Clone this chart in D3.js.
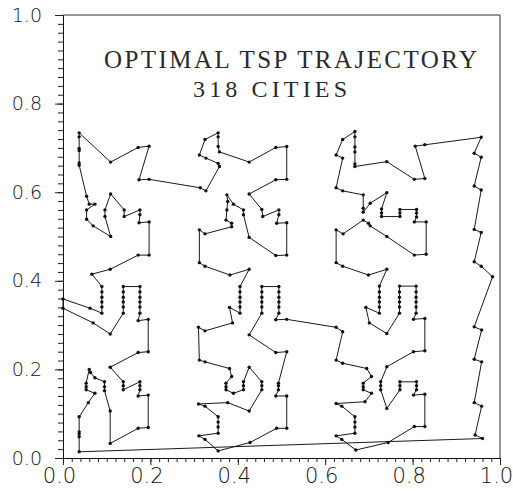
<!DOCTYPE html>
<html><head><meta charset="utf-8">
<script src="https://cdn.jsdelivr.net/npm/d3@7"></script>
<style>body{margin:0;background:#fff}svg{display:block}</style>
</head><body><svg id="c" width="513" height="491"></svg>
<script>
const titleLines = ["OPTIMAL TSP TRAJECTORY", "318 CITIES"];
const majorTicks = [0, 0.2, 0.4, 0.6, 0.8, 1.0];
const xTickLabels = ["0.0", "0.2", "0.4", "0.6", "0.8", "1.0"];
const yTickLabels = ["0.0", "0.2", "0.4", "0.6", "0.8", "1.0"];

// tour, in visiting order, split into the visible groups of cities
const leftCluster = [
 [0.037,0.014],[0.037,0.048],[0.037,0.054],[0.037,0.059],[0.037,0.093],[0.058,0.125],[0.073,0.146],
 [0.053,0.154],[0.053,0.161],[0.053,0.169],[0.060,0.200],[0.063,0.193],[0.073,0.181],[0.095,0.172],
 [0.095,0.161],[0.095,0.152],[0.108,0.106],[0.108,0.033],[0.172,0.067],[0.195,0.069],[0.195,0.142],
 [0.172,0.140],[0.176,0.154],[0.176,0.163],[0.176,0.172],[0.138,0.154],[0.138,0.163],[0.138,0.172],
 [0.108,0.205],[0.172,0.238],[0.195,0.240],[0.195,0.313],[0.172,0.310],[0.176,0.327],[0.176,0.341],
 [0.176,0.352],[0.176,0.363],[0.176,0.375],[0.176,0.387],[0.138,0.387],[0.138,0.375],[0.138,0.363],
 [0.138,0.352],[0.138,0.341],[0.138,0.327],[0.108,0.280],[0.069,0.305],[0.000,0.338],[0.000,0.359],
 [0.062,0.338],[0.089,0.327],[0.089,0.341],[0.089,0.352],[0.089,0.363],[0.089,0.375],[0.089,0.387],
 [0.066,0.415],[0.108,0.426],[0.172,0.458],[0.197,0.458],[0.197,0.533],[0.174,0.531],[0.176,0.549],
 [0.176,0.560],[0.140,0.545],[0.140,0.560],[0.109,0.596],[0.096,0.560],[0.096,0.545],[0.109,0.500],
 [0.069,0.524],[0.054,0.539],[0.054,0.560],[0.073,0.573],[0.060,0.573],[0.054,0.591],[0.037,0.661],
 [0.037,0.666],[0.037,0.694],[0.037,0.699],[0.037,0.725],[0.037,0.734],[0.109,0.668],[0.172,0.701],
 [0.197,0.704],[0.174,0.628],[0.197,0.629]
];
const middleCluster = [
 [0.314,0.610],[0.327,0.603],[0.358,0.658],[0.355,0.665],[0.327,0.677],[0.312,0.684],[0.325,0.719],
 [0.355,0.734],[0.355,0.725],[0.355,0.703],[0.358,0.691],[0.426,0.668],[0.487,0.701],[0.512,0.703],
 [0.512,0.629],[0.487,0.628],[0.426,0.596],[0.455,0.561],[0.457,0.545],[0.494,0.560],[0.494,0.549],
 [0.489,0.530],[0.512,0.531],[0.512,0.458],[0.487,0.457],[0.426,0.498],[0.413,0.549],[0.413,0.560],
 [0.390,0.573],[0.375,0.594],[0.377,0.579],[0.375,0.560],[0.373,0.537],[0.386,0.530],[0.386,0.522],
 [0.325,0.506],[0.312,0.515],[0.312,0.441],[0.325,0.433],[0.382,0.413],[0.426,0.426],[0.405,0.387],
 [0.405,0.375],[0.405,0.363],[0.405,0.352],[0.405,0.341],[0.405,0.327],[0.381,0.340],[0.388,0.305],
 [0.325,0.287],[0.310,0.295],[0.312,0.221],[0.325,0.217],[0.381,0.202],[0.386,0.184],[0.373,0.169],
 [0.373,0.161],[0.373,0.154],[0.390,0.146],[0.413,0.154],[0.413,0.163],[0.413,0.172],[0.426,0.205],
 [0.455,0.172],[0.455,0.163],[0.455,0.154],[0.426,0.106],[0.377,0.125],[0.310,0.122],[0.325,0.117],
 [0.355,0.093],[0.355,0.081],[0.355,0.070],[0.355,0.056],[0.311,0.050],[0.325,0.042],[0.355,0.016],
 [0.428,0.035],[0.489,0.067],[0.512,0.067],[0.512,0.140],[0.487,0.140],[0.493,0.154],[0.493,0.163],
 [0.493,0.169],[0.512,0.240],[0.487,0.238],[0.426,0.278],[0.455,0.327],[0.455,0.341],[0.455,0.352],
 [0.455,0.363],[0.455,0.375],[0.455,0.387],[0.494,0.387],[0.494,0.375],[0.494,0.363],[0.494,0.352],
 [0.494,0.341],[0.494,0.327],[0.487,0.312],[0.512,0.313]
];
const rightCluster = [
 [0.625,0.295],[0.640,0.285],[0.625,0.221],[0.640,0.214],[0.695,0.202],[0.706,0.184],[0.687,0.169],
 [0.687,0.161],[0.687,0.154],[0.706,0.146],[0.691,0.127],[0.625,0.123],[0.638,0.117],[0.668,0.093],
 [0.668,0.081],[0.668,0.070],[0.668,0.056],[0.625,0.050],[0.638,0.042],[0.670,0.018],[0.744,0.035],
 [0.804,0.071],[0.828,0.071],[0.828,0.144],[0.802,0.142],[0.809,0.154],[0.809,0.163],[0.809,0.172],
 [0.771,0.172],[0.771,0.163],[0.771,0.154],[0.741,0.112],[0.727,0.154],[0.727,0.163],[0.727,0.172],
 [0.741,0.206],[0.802,0.240],[0.828,0.242],[0.828,0.315],[0.802,0.313],[0.808,0.327],[0.808,0.341],
 [0.808,0.352],[0.808,0.363],[0.808,0.375],[0.808,0.388],[0.770,0.388],[0.770,0.375],[0.770,0.363],
 [0.770,0.352],[0.770,0.341],[0.770,0.327],[0.741,0.281],[0.701,0.305],[0.693,0.340],[0.724,0.327],
 [0.724,0.341],[0.724,0.352],[0.724,0.363],[0.724,0.375],[0.724,0.388],[0.741,0.426],[0.699,0.413],
 [0.640,0.433],[0.625,0.441],[0.625,0.515],[0.641,0.506],[0.687,0.537],[0.699,0.530],[0.703,0.524],
 [0.741,0.500],[0.804,0.458],[0.831,0.460],[0.831,0.533],[0.804,0.533],[0.809,0.544],[0.809,0.553],
 [0.809,0.561],[0.771,0.561],[0.771,0.553],[0.771,0.545],[0.729,0.545],[0.729,0.553],[0.729,0.562],
 [0.741,0.599],[0.703,0.575],[0.687,0.555],[0.687,0.564],[0.687,0.594],[0.640,0.603],[0.625,0.610],
 [0.640,0.677],[0.625,0.684],[0.640,0.719],[0.668,0.737],[0.668,0.725],[0.668,0.702],[0.668,0.691],
 [0.668,0.664],[0.668,0.658],[0.741,0.669],[0.804,0.629],[0.828,0.631],[0.806,0.704],[0.828,0.707]
];
const eastColumn = [
 [0.957,0.724],[0.941,0.688],[0.957,0.679],[0.941,0.614],[0.957,0.605],[0.941,0.516],[0.957,0.509],
 [0.941,0.443],[0.957,0.433],[0.983,0.409],[0.941,0.296],[0.958,0.289],[0.941,0.223],[0.958,0.217],
 [0.941,0.125],[0.958,0.117],[0.943,0.052],[0.960,0.044]
];

const svg = d3.select("#c");
const x = d3.scaleLinear().domain([0, 1]).range([63, 500]);
const y = d3.scaleLinear().domain([0, 1]).range([458, 15]);
const minorTicks = d3.range(0, 50.5, 1).map(i => i / 50);
const labelFont = "'DejaVu Sans ExtraLight', 'DejaVu Sans', sans-serif";

// frame (top and right)
svg.append("path")
  .attr("d", `M${x(0)},${y(1)}H${x(1)}V${y(0)}`)
  .attr("fill", "none").attr("stroke", "#333").attr("stroke-width", 1);

// x axis
const gx = svg.append("g").attr("transform", `translate(0,${y(0)})`);
gx.call(d3.axisBottom(x).tickValues(minorTicks).tickSize(4).tickSizeOuter(0).tickFormat(""));
gx.append("g").call(d3.axisBottom(x).tickValues(majorTicks).tickSize(7).tickSizeOuter(0).tickPadding(3)
  .tickFormat((d, i) => xTickLabels[i]));
gx.selectAll(".domain").attr("stroke", "#111");
gx.selectAll("line").attr("stroke", "#222");
gx.selectAll("text").attr("font-family", labelFont).attr("font-weight", 200)
  .attr("font-size", 21).attr("fill", "#111").attr("dx", -4);

// y axis
const gy = svg.append("g").attr("transform", `translate(${x(0)},0)`);
gy.call(d3.axisLeft(y).tickValues(minorTicks).tickSize(5).tickSizeOuter(0).tickFormat(""));
gy.append("g").call(d3.axisLeft(y).tickValues(majorTicks).tickSize(8).tickSizeOuter(0).tickPadding(13)
  .tickFormat((d, i) => yTickLabels[i]));
gy.selectAll(".domain").attr("stroke", "#111");
gy.selectAll("line").attr("stroke", "#222");
gy.selectAll("text").attr("font-family", labelFont).attr("font-weight", 200)
  .attr("font-size", 19).attr("fill", "#111");
svg.selectAll("g").attr("font-size", null);

// tour
const tour = leftCluster.concat(middleCluster, rightCluster, eastColumn);
svg.append("path")
  .datum(tour)
  .attr("d", d3.line().x(d => x(d[0])).y(d => y(d[1])).curve(d3.curveLinearClosed))
  .attr("fill", "none").attr("stroke", "#1a1a1a").attr("stroke-width", 1);
svg.append("g").selectAll("circle").data(tour).join("circle")
  .attr("cx", d => x(d[0])).attr("cy", d => y(d[1])).attr("r", 1.7).attr("fill", "#111");

// title
const titleFont = "'Liberation Serif', 'DejaVu Serif', serif";
svg.append("text").attr("x", 104).attr("y", 68).attr("font-family", titleFont)
  .attr("font-size", 25).attr("fill", "#2a2a2a")
  .attr("textLength", 373).attr("lengthAdjust", "spacing").text(titleLines[0]);
svg.append("text").attr("x", 193).attr("y", 96.5).attr("font-family", titleFont)
  .attr("font-size", 24).attr("fill", "#2a2a2a")
  .attr("textLength", 154).attr("lengthAdjust", "spacing").text(titleLines[1]);
</script></body></html>
